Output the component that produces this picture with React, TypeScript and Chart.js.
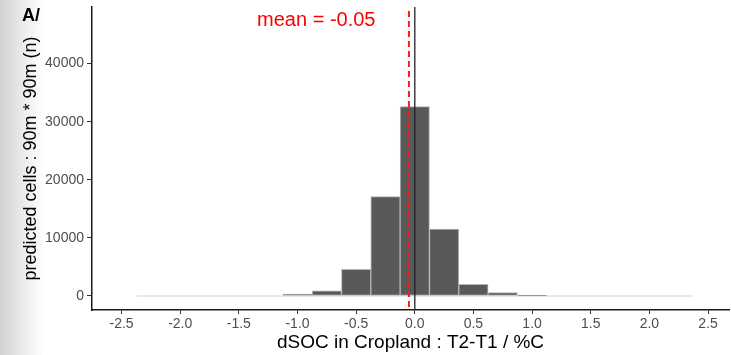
import React, { useEffect, useRef } from "react";
import { Chart, registerables } from "chart.js";

Chart.register(...registerables);

// ---- data ----
const binCenters = [-2.25, -2, -1.75, -1.5, -1.25, -1, -0.75, -0.5, -0.25, 0, 0.25, 0.5, 0.75, 1, 1.25, 1.5, 1.75, 2, 2.25];
const binCounts = [0, 0, 0, 0, 0, 340, 910, 4600, 17100, 32600, 11500, 2000, 570, 40, 0, 0, 0, 0, 0];
const binWidth = 0.25;
const xTicks = [-2.5, -2, -1.5, -1, -0.5, 0, 0.5, 1, 1.5, 2, 2.5];
const yTicks = [0, 10000, 20000, 30000, 40000];
const xRange = [-2.752, 2.679];
const yRange = [-2410, 49740];
const meanValue = -0.05;
const zeroLine = 0;
const meanLabel = "mean = -0.05";
const meanLabelPos = { x: -0.84, y: 47500 };
const panelLabel = "A/";
const xTitle = "dSOC in Cropland : T2-T1 / %C";
const yTitle = "predicted cells : 90m * 90m (n)";

const FONT = "'Liberation Sans', Arial, Helvetica, sans-serif";

export default function App() {
  const ref = useRef<HTMLCanvasElement | null>(null);

  useEffect(() => {
    document.body.style.margin = "0";
    const canvas = ref.current;
    if (!canvas) return;

    const barData = binCenters.map((x, i) => ({ x, y: binCounts[i] }));
    const edgeLine = [
      { x: binCenters[0] - binWidth / 2, y: 0 },
      { x: binCenters[binCenters.length - 1] + binWidth / 2, y: 0 },
    ];

    const decor = {
      id: "decor",
      beforeDraw(chart: any) {
        const ctx = chart.ctx;
        ctx.save();
        const g = ctx.createLinearGradient(0, 0, 44, 0);
        g.addColorStop(0, "#d2d2d2");
        g.addColorStop(0.3, "#e0e0e0");
        g.addColorStop(0.6, "#efefef");
        g.addColorStop(1, "#ffffff");
        ctx.fillStyle = g;
        ctx.fillRect(0, 0, 44, chart.height);
        ctx.restore();
      },
      afterDatasetsDraw(chart: any) {
        const ctx = chart.ctx;
        const xs = chart.scales.x;
        const ys = chart.scales.y;
        const { top, bottom } = chart.chartArea;
        ctx.save();
        // zero line
        const x0 = xs.getPixelForValue(zeroLine);
        ctx.strokeStyle = "rgba(30,30,30,0.85)";
        ctx.lineWidth = 1.5;
        ctx.beginPath();
        ctx.moveTo(x0, top);
        ctx.lineTo(x0, bottom);
        ctx.stroke();
        // mean line
        const xm = xs.getPixelForValue(meanValue);
        ctx.strokeStyle = "#ff1a1a";
        ctx.lineWidth = 2;
        ctx.setLineDash([6, 4]);
        ctx.beginPath();
        ctx.moveTo(xm, top + 4);
        ctx.lineTo(xm, bottom);
        ctx.stroke();
        ctx.setLineDash([]);
        // mean label
        ctx.fillStyle = "#ff0000";
        ctx.font = `20px ${FONT}`;
        ctx.textAlign = "center";
        ctx.textBaseline = "middle";
        ctx.fillText(meanLabel, xs.getPixelForValue(meanLabelPos.x), ys.getPixelForValue(meanLabelPos.y));
        // panel label
        ctx.fillStyle = "#000";
        ctx.font = `bold 18px ${FONT}`;
        ctx.textAlign = "left";
        ctx.fillText(panelLabel, 22, 16);
        ctx.restore();
      },
    };

    const chart = new Chart(canvas, {
      type: "bar",
      data: {
        datasets: [
          {
            type: "line",
            data: edgeLine,
            borderColor: "#d4d4d4",
            borderWidth: 1.2,
            pointRadius: 0,
            pointHoverRadius: 0,
            order: 2,
          } as any,
          {
            type: "bar",
            data: barData,
            backgroundColor: "#595959",
            borderColor: "#b4b4b4",
            borderWidth: 1,
            borderSkipped: false,
            barPercentage: 1,
            categoryPercentage: 1,
            order: 1,
          } as any,
        ],
      },
      options: {
        animation: false,
        responsive: true,
        maintainAspectRatio: false,
        layout: { autoPadding: false, padding: { top: 7, right: 2, left: 0, bottom: 0 } },
        plugins: { legend: { display: false }, tooltip: { enabled: false } },
        scales: {
          x: {
            type: "linear",
            offset: false,
            min: xRange[0],
            max: xRange[1],
            afterBuildTicks: (s: any) => {
              s.ticks = xTicks.map((v) => ({ value: v }));
            },
            afterFit: (s: any) => {
              s.height = 45;
              s.paddingLeft = 0;
              s.paddingRight = 0;
            },
            grid: { display: true, offset: false, drawOnChartArea: false, tickLength: 4, color: "#333", tickWidth: 1 },
            border: { display: true, color: "#1a1a1a", width: 1.5 },
            ticks: {
              color: "#4d4d4d",
              font: { family: FONT, size: 14 },
              padding: 2,
              maxRotation: 0,
              autoSkip: false,
              callback: (v: any) => Number(v).toFixed(1),
            },
            title: {
              display: true,
              text: xTitle,
              color: "#000",
              font: { family: FONT, size: 19 },
              padding: { top: 0, bottom: 1 },
            },
          },
          y: {
            type: "linear",
            min: yRange[0],
            max: yRange[1],
            afterBuildTicks: (s: any) => {
              s.ticks = yTicks.map((v) => ({ value: v }));
            },
            afterFit: (s: any) => {
              s.width = 92;
              s.paddingTop = 0;
              s.paddingBottom = 0;
            },
            grid: { display: true, drawOnChartArea: false, tickLength: 5, color: "#333", tickWidth: 1 },
            border: { display: true, color: "#1a1a1a", width: 1.5 },
            ticks: {
              color: "#4d4d4d",
              font: { family: FONT, size: 14 },
              padding: 3,
              autoSkip: false,
              callback: (v: any) => String(v),
            },
            title: {
              display: true,
              text: yTitle,
              color: "#000",
              font: { family: FONT, size: 18 },
              padding: { top: 20, bottom: 0 },
            },
          },
        },
      },
      plugins: [decor],
    });

    return () => chart.destroy();
  }, []);

  return (
    <div style={{ position: "absolute", left: 0, top: 0, width: 731, height: 355 }}>
      <canvas ref={ref} />
    </div>
  );
}
